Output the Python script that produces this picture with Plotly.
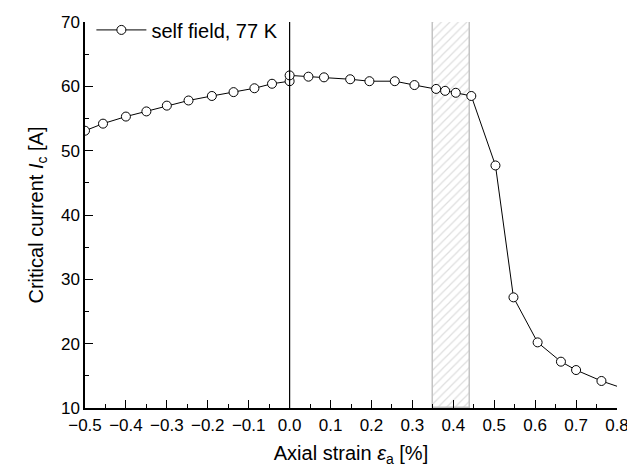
import plotly.graph_objects as go

strain = [-0.5, -0.456, -0.40, -0.35, -0.30, -0.247, -0.19, -0.137, -0.086, -0.043, 0.0, 0.0,
          0.046, 0.084, 0.148, 0.195, 0.257, 0.305, 0.358, 0.38, 0.406, 0.444,
          0.503, 0.547, 0.606, 0.663, 0.700, 0.762, 0.82]
ic = [53.1, 54.2, 55.3, 56.1, 57.0, 57.8, 58.5, 59.1, 59.7, 60.4, 60.8, 61.7,
      61.5, 61.4, 61.1, 60.8, 60.8, 60.2, 59.6, 59.3, 59.0, 58.5,
      47.7, 27.2, 20.2, 17.2, 15.9, 14.2, 12.95]
band = [0.35, 0.44]
ylims = [10, 70]
xlims = [-0.5, 0.8]
series_name = "self field, 77 K"

FONT = "Liberation Sans, Arial, sans-serif"

fig = go.Figure()

# hatched band
fig.add_trace(go.Bar(
    x=[(band[0] + band[1]) / 2], y=[ylims[1] - ylims[0]], base=[ylims[0]],
    width=[band[1] - band[0]],
    marker=dict(color="white", line=dict(color="#c4c4c4", width=1.5),
                pattern=dict(shape="/", fgcolor="#bdbdbd", bgcolor="white", size=6, solidity=0.2)),
    showlegend=False, hoverinfo="skip"))

fig.add_trace(go.Scatter(
    x=strain, y=ic, mode="lines+markers", name=series_name,
    line=dict(color="black", width=1),
    marker=dict(symbol="circle", size=9, color="white", line=dict(color="black", width=1)),
))

fig.add_shape(type="line", xref="x", yref="paper", x0=0, x1=0, y0=0, y1=1,
              line=dict(color="black", width=1.2))

fig.update_layout(
    width=627, height=472,
    margin=dict(l=85, r=10, t=15, b=64),
    paper_bgcolor="white", plot_bgcolor="white",
    font=dict(family=FONT, size=17, color="black"),
    showlegend=True,
    legend=dict(x=0.012, y=1.03, xanchor="left", yanchor="top", bgcolor="rgba(0,0,0,0)",
                font=dict(size=20), itemwidth=50),
    bargap=0,
    xaxis=dict(range=xlims, dtick=0.1, tick0=-0.5, tickformat=".1f", automargin=False,
               ticklabeloverflow="allow", ticklabelstandoff=1,
               showline=True, linecolor="black", linewidth=1.5, mirror=False,
               ticks="inside", ticklen=8, tickwidth=1.2, tickcolor="black",
               minor=dict(dtick=0.05, ticks="inside", ticklen=4, tickcolor="black"),
               showgrid=False, zeroline=False,
               title=dict(text="Axial strain <i>ε</i><sub>a</sub> [%]", font=dict(size=20), standoff=12)),
    yaxis=dict(range=ylims, dtick=10, tick0=10, automargin=False,
               ticklabeloverflow="allow",
               showline=True, linecolor="black", linewidth=1.5, mirror=False,
               ticks="inside", ticklen=8, tickwidth=1.2, tickcolor="black",
               minor=dict(dtick=5, ticks="inside", ticklen=4, tickcolor="black"),
               showgrid=False, zeroline=False,
               title=dict(text="Critical current <i>I</i><sub>c</sub> [A]", font=dict(size=20), standoff=12)),
)

fig.write_html("out.html", config={"displayModeBar": False},
               post_script="document.body.style.margin='0px';document.documentElement.style.overflow='hidden';")
